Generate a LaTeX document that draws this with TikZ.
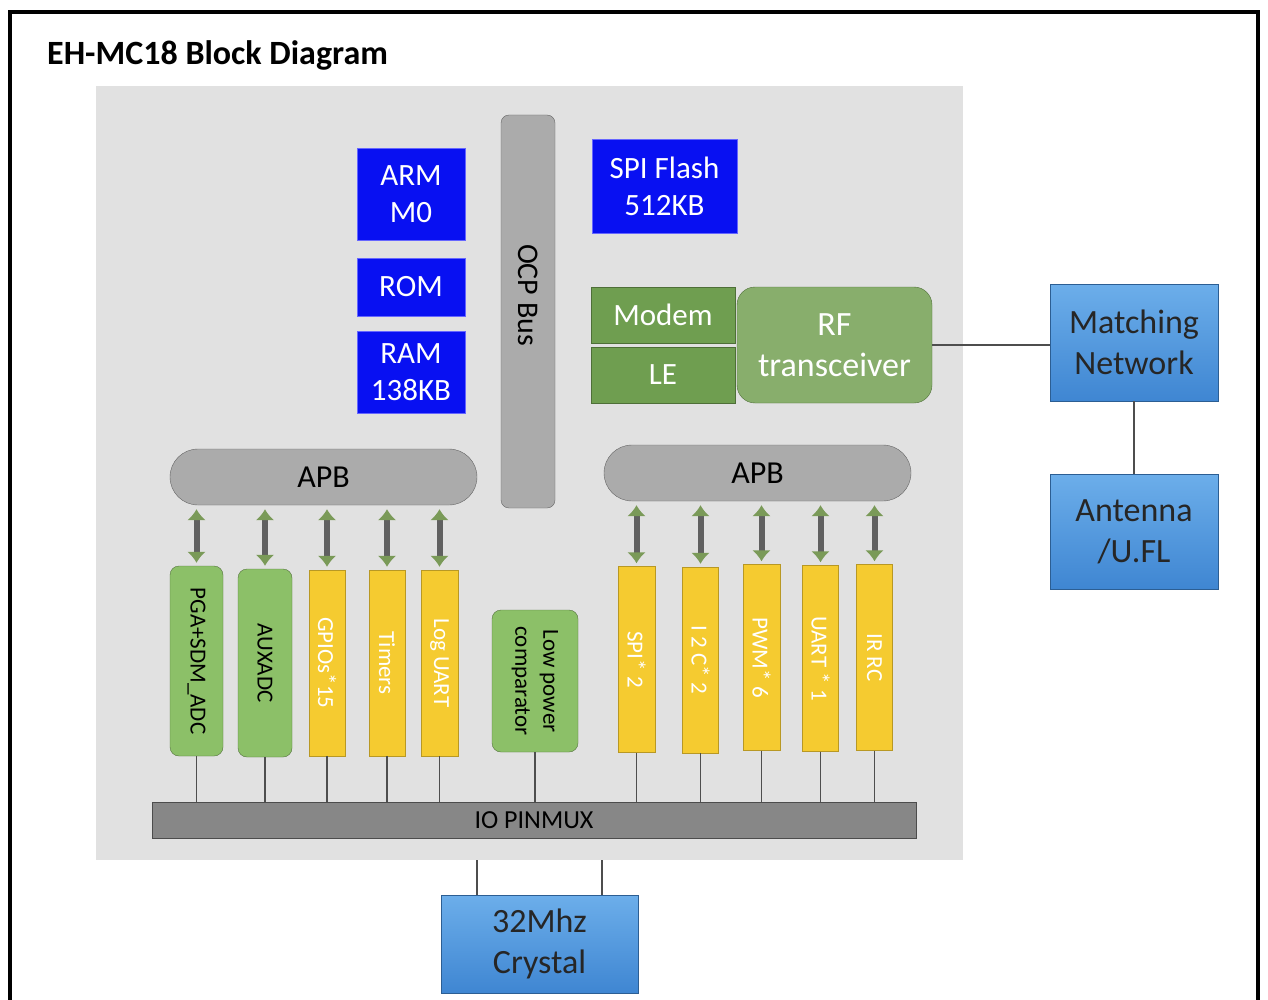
\documentclass[tikz,border=0pt]{standalone}
\usepackage{fontspec}
\setmainfont{Carlito}
\usetikzlibrary{arrows.meta}

\definecolor{fond}{HTML}{E1E1E1}
\definecolor{bleuvif}{HTML}{0810F2}
\definecolor{bleuclair}{HTML}{6CAEEA}
\definecolor{bleufonce}{HTML}{3F86D2}
\definecolor{grisbus}{HTML}{ABABAB}
\definecolor{grispin}{HTML}{878787}
\definecolor{vertmodem}{HTML}{6F9E50}
\definecolor{vertrf}{HTML}{88AE6C}
\definecolor{vertbloc}{HTML}{8CC068}
\definecolor{jaune}{HTML}{F5CB30}
\definecolor{vertfleche}{HTML}{7A9A58}
\definecolor{trait}{HTML}{4E4E4E}

\newcommand{\etoile}{\raisebox{0.08em}{*}}

\tikzset{
  memoire/.style={draw=blue!60!white, fill=bleuvif, text=white, align=center,
    inner sep=0pt, font=\fontsize{31}{37}\selectfont},
  externe/.style={draw=bleufonce!70!black, top color=bleuclair, bottom color=bleufonce,
    text=black!85, align=center, inner sep=0pt, font=\fontsize{34}{41}\selectfont},
  bus/.style={draw=gray!80!black, fill=grisbus, inner sep=0pt, font=\fontsize{32}{36}\selectfont},
  radio/.style={draw=vertmodem!70!black, fill=vertmodem, text=white, inner sep=0pt,
    font=\fontsize{31}{40}\selectfont},
  analog/.style={draw=vertbloc!60!black, fill=vertbloc, rounded corners=9pt, rotate=-90,
    inner sep=0pt, align=center, font=\fontsize{23}{28}\selectfont},
  periph/.style={draw=jaune!75!black, fill=jaune, rotate=-90, text=white,
    inner sep=0pt, font=\fontsize{23}{26}\selectfont},
  fleche/.style={line width=6pt, draw=gray!75!black,
    {Latex[length=11pt,width=19pt,color=vertfleche]}-{Latex[length=11pt,width=19pt,color=vertfleche]},
    shorten <=4pt, shorten >=3pt},
  fil/.style={draw=trait, line width=1.3pt}
}

\begin{document}
\begin{tikzpicture}[x=1pt, y=-1pt]
  \useasboundingbox (0,0) rectangle (1268,1000);

  % Cadre et titre
  \draw[line width=4pt] (10,12) rectangle (1258,1012);
  \node[anchor=west, inner sep=0pt, font=\fontsize{34}{38}\selectfont\bfseries] (titre) at (47,55) {EH-MC18 Block Diagram};

  % Fond de la puce
  \fill[fond] (96,86) rectangle (963,860);

  % Mémoires et processeur
  \node[memoire, minimum width=108pt, minimum height=92pt] (arm) at (411,194) {ARM\\M0};
  \node[memoire, minimum width=108pt, minimum height=58pt] (rom) at (411,287) {ROM};
  \node[memoire, minimum width=108pt, minimum height=82pt] (ram) at (411,372) {RAM\\138KB};
  \node[memoire, minimum width=145pt, minimum height=94pt] (flash) at (664.5,186) {SPI Flash\\512KB};

  % Bus
  \node[bus, rounded corners=8pt, rotate=-90, minimum width=393pt, minimum height=54pt] (ocp) at (528,311.5) {};
  \node[rotate=-90, inner sep=0pt, font=\fontsize{30}{34}\selectfont] (ocptexte) at (528,295) {OCP Bus};
  \node[bus, rounded corners=28pt, minimum width=307pt, minimum height=56pt] (apbg) at (323.5,477) {APB};
  \node[bus, rounded corners=28pt, minimum width=307pt, minimum height=56pt] (apbd) at (757.5,473) {APB};
  \node[bus, fill=grispin, draw=gray!60!black, minimum width=764pt, minimum height=36pt,
    font=\fontsize{26}{30}\selectfont] (pinmux) at (534,820) {IO PINMUX};

  % Partie radio
  \node[radio, minimum width=144pt, minimum height=56pt] (modem) at (663,315) {Modem};
  \node[radio, minimum width=144pt, minimum height=56pt] (le) at (663,375) {LE};
  \node[radio, fill=vertrf, rounded corners=18pt, align=center, minimum width=195pt, minimum height=116pt,
    font=\fontsize{34}{41}\selectfont] (rf) at (834.5,345) {RF\\transceiver};

  % Blocs externes
  \node[externe, minimum width=168pt, minimum height=117pt] (match) at (1134,342.5) {Matching\\Network};
  \node[externe, minimum width=168pt, minimum height=115pt] (ant) at (1134,531.5) {Antenna\\/U.FL};
  \node[externe, minimum width=197pt, minimum height=98pt] (quartz) at (539.5,944) {32Mhz\\Crystal};

  % Périphériques (gauche)
  \node[analog, minimum width=190pt, minimum height=53pt] (pga) at (196.5,661) {PGA+SDM\_ADC};
  \node[analog, minimum width=188pt, minimum height=54pt] (aux) at (265,663) {AUXADC};
  \node[periph, minimum width=186pt, minimum height=36pt] (gpio) at (327,663) {GPIOs\etoile15};
  \node[periph, minimum width=186pt, minimum height=36pt] (timer) at (387,663) {Timers};
  \node[periph, minimum width=186pt, minimum height=37pt] (loguart) at (439.5,663) {Log UART};
  \node[analog, minimum width=142pt, minimum height=86pt] (comp) at (535,681) {Low power\\comparator};

  % Périphériques (droite)
  \node[periph, minimum width=186pt, minimum height=37pt] (spi) at (636.5,659.5) {SPI\etoile\ 2};
  \node[periph, minimum width=186pt, minimum height=36pt] (i2c) at (700.5,660) {I 2 C\etoile\ 2};
  \node[periph, minimum width=186pt, minimum height=37pt] (pwm) at (761.5,657.5) {PWM\etoile\ 6};
  \node[periph, minimum width=186pt, minimum height=36pt] (uart) at (820.5,658.5) {UART \etoile\ 1};
  \node[periph, minimum width=186pt, minimum height=36pt] (irrc) at (874.5,657.5) {IR RC};

  % Flèches APB vers périphériques
  \draw[fleche] (pga.west |- apbg.south) -- (pga.west);
  \draw[fleche] (aux.west |- apbg.south) -- (aux.west);
  \draw[fleche] (gpio.west |- apbg.south) -- (gpio.west);
  \draw[fleche] (timer.west |- apbg.south) -- (timer.west);
  \draw[fleche] (loguart.west |- apbg.south) -- (loguart.west);
  \draw[fleche] (spi.west |- apbd.south) -- (spi.west);
  \draw[fleche] (i2c.west |- apbd.south) -- (i2c.west);
  \draw[fleche] (pwm.west |- apbd.south) -- (pwm.west);
  \draw[fleche] (uart.west |- apbd.south) -- (uart.west);
  \draw[fleche] (irrc.west |- apbd.south) -- (irrc.west);

  % Liaisons vers IO PINMUX
  \draw[fil] (pga.east) -- (pga.east |- pinmux.north);
  \draw[fil] (aux.east) -- (aux.east |- pinmux.north);
  \draw[fil] (gpio.east) -- (gpio.east |- pinmux.north);
  \draw[fil] (timer.east) -- (timer.east |- pinmux.north);
  \draw[fil] (loguart.east) -- (loguart.east |- pinmux.north);
  \draw[fil] (comp.east) -- (comp.east |- pinmux.north);
  \draw[fil] (spi.east) -- (spi.east |- pinmux.north);
  \draw[fil] (i2c.east) -- (i2c.east |- pinmux.north);
  \draw[fil] (pwm.east) -- (pwm.east |- pinmux.north);
  \draw[fil] (uart.east) -- (uart.east |- pinmux.north);
  \draw[fil] (irrc.east) -- (irrc.east |- pinmux.north);

  % Radio vers antenne, quartz
  \draw[fil] (rf.east) -- (rf.east -| match.west);
  \draw[fil] (match.south) -- (ant.north);
  \coordinate (xa) at (477,860);
  \coordinate (xb) at (602,860);
  \draw[fil] (xa) -- (xa |- quartz.north);
  \draw[fil] (xb) -- (xb |- quartz.north);
\end{tikzpicture}
\end{document}
